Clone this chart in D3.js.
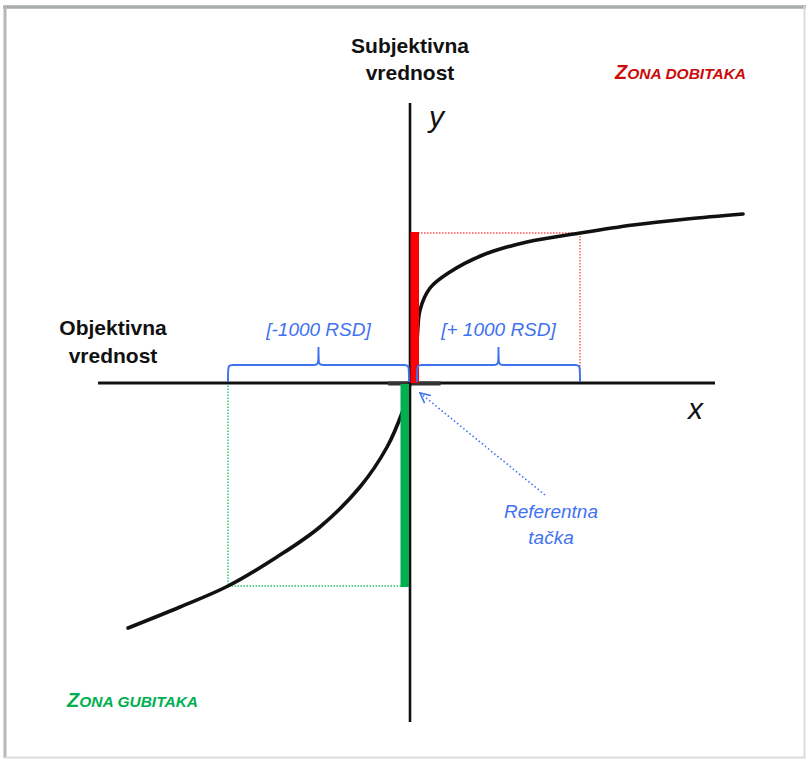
<!DOCTYPE html>
<html>
<head>
<meta charset="utf-8">
<script src="https://cdn.jsdelivr.net/npm/d3@7"></script>
<style>
  body { margin: 0; background: #fff; }
  svg { display: block; font-family: "Liberation Sans", Arial, sans-serif; }
</style>
</head>
<body>
<svg id="chart" width="806" height="759"></svg>
<script>
// objective value (RSD) -> subjective value
const gainX = [0, 18, 41, 59, 118, 235, 429, 688, 1000, 1312, 1629, 1959];
const gainV = [0, 16, 43, 73, 95, 111, 128, 141, 150, 158, 164, 169];
const lossX = [0, -22, -44, -126, -275, -495, -731, -1000, -1264, -1549];
const lossV = [0, -17, -30, -64, -104, -144, -174, -203, -224, -245];

const refAmounts = [-1000, 1000];
const refLabels = ["[-1000 RSD]", "[+ 1000 RSD]"];
const xDomain = [-1714, 1794];
const yDomain = [-339, 280];

const svg = d3.select("#chart");

// hand drawn chart: loss side is a bit wider than gain side
const x = d3.scaleLinear().domain([-1000, 0, 1000]).range([228, 410, 580]);
const y = d3.scaleLinear().domain(yDomain).range([722, 103]);

const blue = "#3f72f0";
const red = "#ff0000";
const green = "#00b050";

// frame
svg.append("line").attr("x1", 3).attr("x2", 806).attr("y1", 7).attr("y2", 7)
    .attr("stroke", "#a9acae").attr("stroke-width", 3.5);
svg.append("line").attr("x1", 5).attr("x2", 5).attr("y1", 6).attr("y2", 758)
    .attr("stroke", "#b5b7b9").attr("stroke-width", 3);
svg.append("line").attr("x1", 5).attr("x2", 806).attr("y1", 757.5).attr("y2", 757.5)
    .attr("stroke", "#dcdcdc").attr("stroke-width", 2);
svg.append("line").attr("x1", 804.5).attr("x2", 804.5).attr("y1", 6).attr("y2", 758)
    .attr("stroke", "#dcdcdc").attr("stroke-width", 2);

const gains = gainX.map((d, i) => ({x: d, v: gainV[i]}));
const losses = lossX.map((d, i) => ({x: d, v: lossV[i]}));
const at = (arr, xv) => arr.find(d => d.x === xv).v;
const vGain = at(gains, 1000);
const vLoss = at(losses, -1000);

// dotted guides
const dotted = svg.append("g").attr("fill", "none").attr("stroke-dasharray", "1.5,1.5").attr("stroke-width", 1.4);
dotted.append("path")
    .attr("stroke", "#ff5050")
    .attr("d", `M${x(0) + 8},${y(vGain)}H${x(1000)}V${y(0)}`);
dotted.append("path")
    .attr("stroke", "#22c46a")
    .attr("d", `M${x(0) - 9},${y(vLoss)}H${x(-1000)}V${y(0)}`);

// axes
svg.append("line")
    .attr("x1", x(xDomain[0])).attr("x2", x(xDomain[1]))
    .attr("y1", y(0)).attr("y2", y(0))
    .attr("stroke", "#111").attr("stroke-width", 3);
svg.append("line")
    .attr("x1", x(-120)).attr("x2", x(180))
    .attr("y1", y(0) + 0.5).attr("y2", y(0) + 0.5)
    .attr("stroke", "#333").attr("stroke-width", 4);
svg.append("line")
    .attr("x1", x(0)).attr("x2", x(0))
    .attr("y1", y(yDomain[0])).attr("y2", y(yDomain[1]))
    .attr("stroke", "#111").attr("stroke-width", 2.6);

// value function
const line = d3.line()
    .x(d => x(d.x))
    .y(d => y(d.v))
    .curve(d3.curveCatmullRom.alpha(0.5));

svg.append("path").datum(gains)
    .attr("d", line)
    .attr("fill", "none").attr("stroke", "#111").attr("stroke-width", 3.6).attr("stroke-linecap", "round");
svg.append("path").datum(losses)
    .attr("d", line)
    .attr("fill", "none").attr("stroke", "#111").attr("stroke-width", 3.6).attr("stroke-linecap", "round");

// value bars, on top of the curve near the origin
svg.append("rect")
    .attr("x", x(0) + 0.5).attr("width", 8.5)
    .attr("y", y(vGain) - 1).attr("height", y(0) - y(vGain) + 1)
    .attr("fill", red);
svg.append("rect")
    .attr("x", x(0) - 9.5).attr("width", 8.5)
    .attr("y", y(0) + 1).attr("height", y(vLoss) - y(0))
    .attr("fill", green);

// braces
function brace(x0, x1, yBase) {
    const yTop = yBase - 17, yPeak = yBase - 35, mid = (x0 + x1) / 2, r = 5;
    return `M${x0},${yBase}` +
        `C${x0},${yTop} ${x0},${yTop} ${x0 + r},${yTop}` +
        `H${mid - r}` +
        `C${mid},${yTop} ${mid},${yTop} ${mid},${yPeak}` +
        `C${mid},${yTop} ${mid},${yTop} ${mid + r},${yTop}` +
        `H${x1 - r}` +
        `C${x1},${yTop} ${x1},${yTop} ${x1},${yBase}`;
}

refAmounts.forEach((amt, i) => {
    const a = amt < 0 ? x(amt) : x(0) + 7;
    const b = amt < 0 ? x(0) - 1 : x(amt);
    svg.append("path")
        .attr("d", brace(a, b, y(0) - 1))
        .attr("fill", "none").attr("stroke", blue).attr("stroke-width", 1.9);
    svg.append("text")
        .attr("x", (a + b) / 2).attr("y", y(0) - 47)
        .attr("text-anchor", "middle")
        .attr("font-size", 19).attr("font-style", "italic")
        .attr("fill", blue)
        .text(refLabels[i]);
});

// reference point arrow
svg.append("defs").append("marker")
    .attr("id", "arr").attr("viewBox", "0 0 12 12")
    .attr("refX", 11).attr("refY", 6)
    .attr("markerWidth", 12).attr("markerHeight", 12)
    .attr("markerUnits", "userSpaceOnUse")
    .attr("orient", "auto")
    .append("path").attr("d", "M1,1L11,6L1,11")
    .attr("fill", "none").attr("stroke", blue).attr("stroke-width", 1.6);

svg.append("line")
    .attr("x1", 545).attr("y1", 495)
    .attr("x2", x(0) + 10).attr("y2", y(0) + 10)
    .attr("stroke", blue).attr("stroke-width", 1.6)
    .attr("stroke-dasharray", "1.5,2.5")
    .attr("marker-end", "url(#arr)");

svg.append("text")
    .attr("x", 551).attr("y", 518)
    .attr("text-anchor", "middle").attr("font-size", 19).attr("font-style", "italic")
    .attr("fill", blue)
    .selectAll("tspan").data(["Referentna", "tačka"]).join("tspan")
    .attr("x", 551).attr("dy", (d, i) => i ? 26 : 0)
    .text(d => d);

// axis titles
svg.append("text")
    .attr("text-anchor", "middle").attr("font-size", 21).attr("font-weight", "bold").attr("fill", "#111")
    .selectAll("tspan").data(["Subjektivna", "vrednost"]).join("tspan")
    .attr("x", x(0)).attr("y", (d, i) => 53 + i * 27)
    .text(d => d);

svg.append("text")
    .attr("text-anchor", "middle").attr("font-size", 21).attr("font-weight", "bold").attr("fill", "#111")
    .selectAll("tspan").data(["Objektivna", "vrednost"]).join("tspan")
    .attr("x", 113).attr("y", (d, i) => 335 + i * 28)
    .text(d => d);

svg.append("text")
    .attr("x", 429).attr("y", 127)
    .attr("font-size", 30).attr("font-style", "italic").attr("fill", "#111")
    .text("y");
svg.append("text")
    .attr("x", 688).attr("y", 419)
    .attr("font-size", 30).attr("font-style", "italic").attr("fill", "#111")
    .text("x");

// zones
function zone(tx, ty, rest, color) {
    const t = svg.append("text")
        .attr("x", tx).attr("y", ty)
        .attr("font-weight", "bold").attr("font-style", "italic")
        .attr("fill", color);
    t.append("tspan").attr("font-size", 20).text("Z");
    t.append("tspan").attr("font-size", 15.5).text(rest);
}
zone(615, 79, "ONA DOBITAKA", "#cc0a0a");
zone(67, 707, "ONA GUBITAKA", "#00b050");
</script>
</body>
</html>
